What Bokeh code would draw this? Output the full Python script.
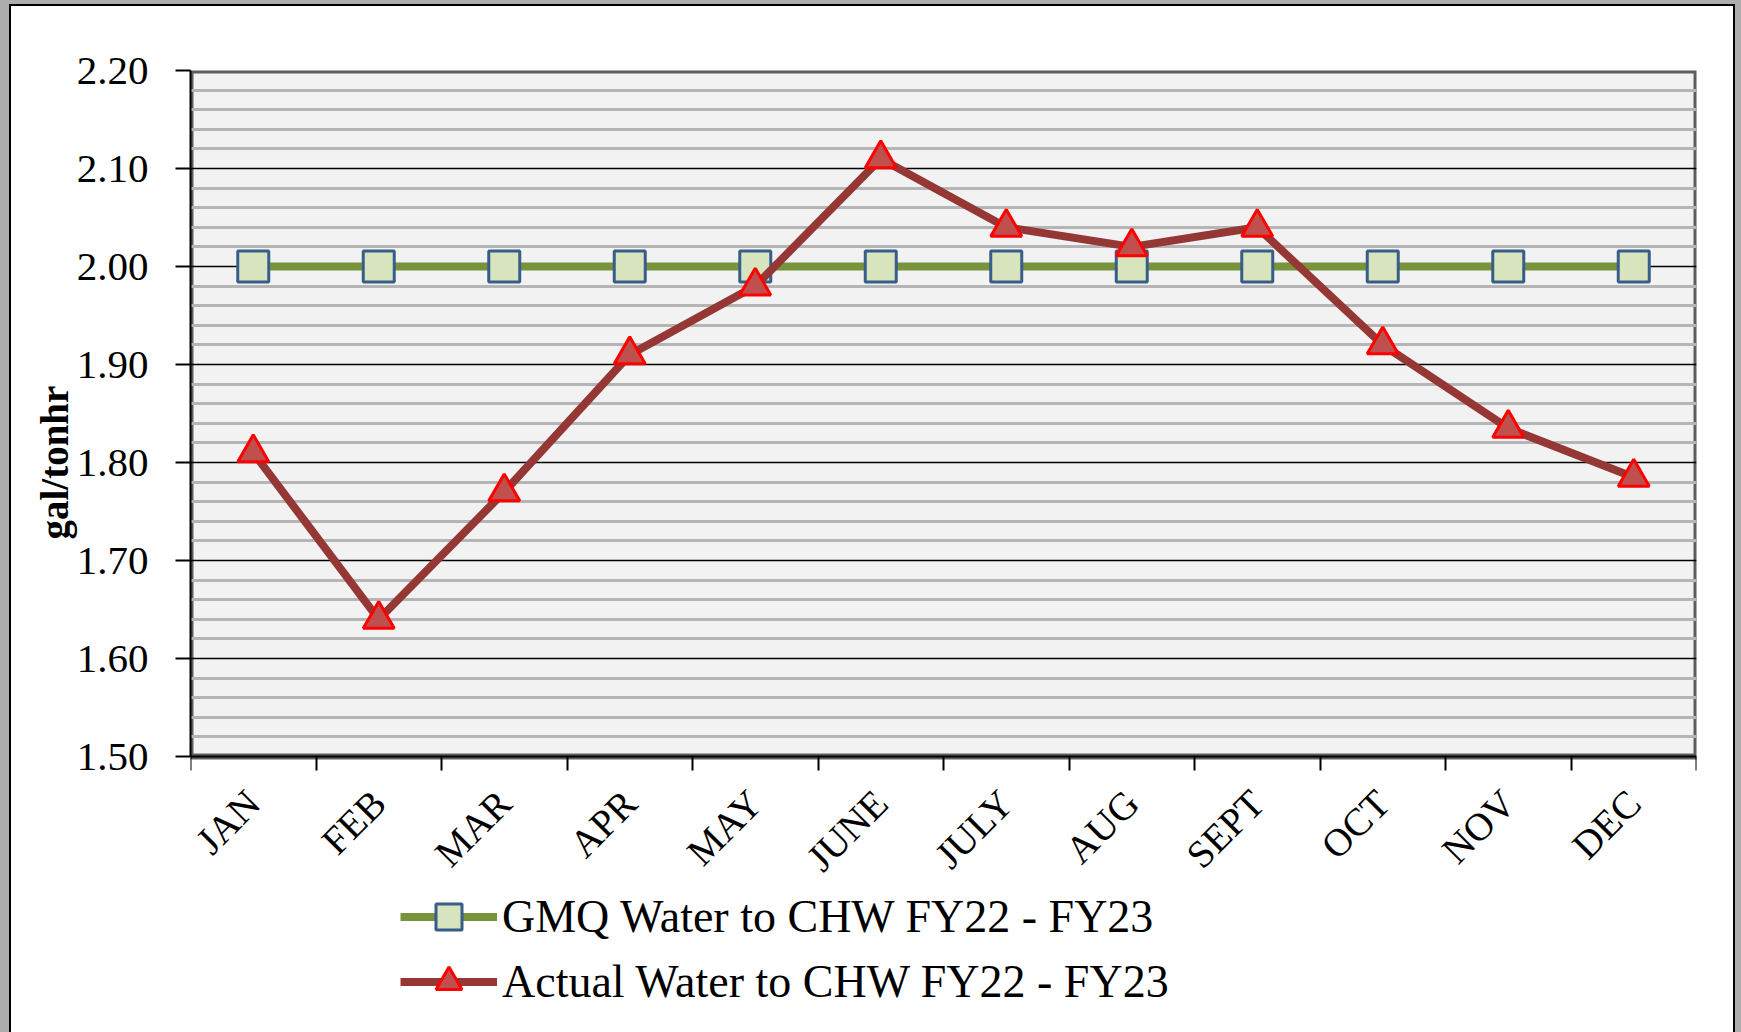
import math
from bokeh.plotting import figure
from bokeh.models import (Range1d, FixedTicker, Legend, LegendItem, Title,
                          NumeralTickFormatter, BoxAnnotation)
from bokeh.embed import file_html
from bokeh.resources import INLINE

months = ["JAN", "FEB", "MAR", "APR", "MAY", "JUNE", "JULY", "AUG", "SEPT", "OCT", "NOV", "DEC"]
month_pos = [1, 2, 3, 4, 5, 6, 7, 8, 9, 10, 11, 12]
gmq = [2.00, 2.00, 2.00, 2.00, 2.00, 2.00, 2.00, 2.00, 2.00, 2.00, 2.00, 2.00]
actual = [1.81, 1.64, 1.77, 1.91, 1.98, 2.11, 2.04, 2.02, 2.04, 1.92, 1.835, 1.785]
y_ticks = [1.50, 1.60, 1.70, 1.80, 1.90, 2.00, 2.10, 2.20]
y_minor = [1.52, 1.54, 1.56, 1.58, 1.62, 1.64, 1.66, 1.68, 1.72, 1.74, 1.76, 1.78,
           1.82, 1.84, 1.86, 1.88, 1.92, 1.94, 1.96, 1.98, 2.02, 2.04, 2.06, 2.08,
           2.12, 2.14, 2.16, 2.18]
x_bounds = [0.5, 1.5, 2.5, 3.5, 4.5, 5.5, 6.5, 7.5, 8.5, 9.5, 10.5, 11.5, 12.5]
y_label = "gal/tonhr"
name_gmq = "GMQ Water to CHW FY22 - FY23"
name_act = "Actual Water to CHW FY22 - FY23"

FONT = "Liberation Serif"
Y_MIN, Y_MAX = 1.5, 2.2
X_MIN, X_MAX = 0.5, 12.5

# plot area is 686 px tall for 0.7 units; the frame continues 276 px lower
# (room for the month labels and the legend)
PX_PER_UNIT = 686 / (Y_MAX - Y_MIN)
y_start = Y_MIN - 276 / PX_PER_UNIT

p = figure(frame_width=1506, frame_height=962,
           min_border_left=179, min_border_right=37,
           min_border_top=64, min_border_bottom=0,
           x_range=Range1d(X_MIN, X_MAX), y_range=Range1d(y_start, Y_MAX),
           output_backend="svg", toolbar_location=None)
p.margin = (6, 0, 0, 11)

p.background_fill_color = "white"
p.border_fill_color = "white"
p.outline_line_color = None
p.styles = {"box-shadow": "0 0 0 2px #000000, 0 0 0 14px #adadad"}

# grey plot area
p.add_layout(BoxAnnotation(left=X_MIN, right=X_MAX, bottom=Y_MIN, top=Y_MAX,
                           fill_color="#f2f2f2", fill_alpha=1,
                           line_color="#5e5e5e", line_alpha=1, line_width=6,
                           level="image"))

# grid
p.xgrid.visible = False
p.ygrid.ticker = FixedTicker(ticks=y_ticks[1:-1], minor_ticks=y_minor)
p.ygrid.grid_line_color = "black"
p.ygrid.grid_line_width = 1.5
p.ygrid.minor_grid_line_color = "#b5b5b5"
p.ygrid.minor_grid_line_width = 3

# y axis
ya = p.yaxis[0]
ya.ticker = FixedTicker(ticks=y_ticks)
ya.bounds = (Y_MIN, Y_MAX)
ya.formatter = NumeralTickFormatter(format="0.00")
ya.axis_line_color = "black"
ya.axis_line_width = 2
ya.major_tick_line_color = "black"
ya.major_tick_line_width = 2
ya.major_tick_out = 15
ya.major_tick_in = 0
ya.minor_tick_out = 0
ya.minor_tick_in = 0
ya.major_label_text_font = FONT
ya.major_label_text_font_size = "41px"
ya.major_label_text_color = "black"
ya.major_label_standoff = 27

# x axis (drawn at y = 1.50)
xa = p.xaxis[0]
xa.fixed_location = Y_MIN
xa.ticker = FixedTicker(ticks=month_pos, minor_ticks=x_bounds)
xa.major_label_overrides = {m: lab for m, lab in zip(month_pos, months)}
xa.axis_line_color = "black"
xa.axis_line_width = 2
xa.major_tick_out = 0
xa.major_tick_in = 0
xa.minor_tick_out = 14
xa.minor_tick_in = 0
xa.minor_tick_line_color = "black"
xa.minor_tick_line_width = 2
xa.major_label_orientation = math.pi / 4
xa.major_label_text_font = FONT
xa.major_label_text_font_size = "39px"
xa.major_label_text_color = "black"
xa.major_label_standoff = 26

# series
l1 = p.line(month_pos, gmq, line_color="#77933c", line_width=8)
s1 = p.scatter(month_pos, gmq, marker="square", size=31, fill_color="#d7e4bd",
               line_color="#385d8a", line_width=3)
l2 = p.line(month_pos, actual, line_color="#953735", line_width=8)
s2 = p.scatter(month_pos, actual, marker="triangle", size=31, fill_color="#c0504d",
               line_color="#ff0000", line_width=3)

# y axis title
p.add_layout(Title(text=y_label, align="left", offset=493, standoff=-4,
                   text_font=FONT, text_font_size="39px", text_font_style="bold",
                   text_color="black"), "left")

legend = Legend(items=[LegendItem(label=name_gmq, renderers=[l1, s1]),
                       LegendItem(label=name_act, renderers=[l2, s2])],
                location=(210, 18), orientation="vertical",
                glyph_width=97, glyph_height=65, label_height=65,
                label_standoff=5, spacing=0, padding=0, margin=0,
                border_line_color=None, background_fill_alpha=0,
                label_text_font=FONT, label_text_font_size="46px",
                label_text_color="black")
p.add_layout(legend, "center")

open("out.html", "w").write(file_html(p, INLINE))
